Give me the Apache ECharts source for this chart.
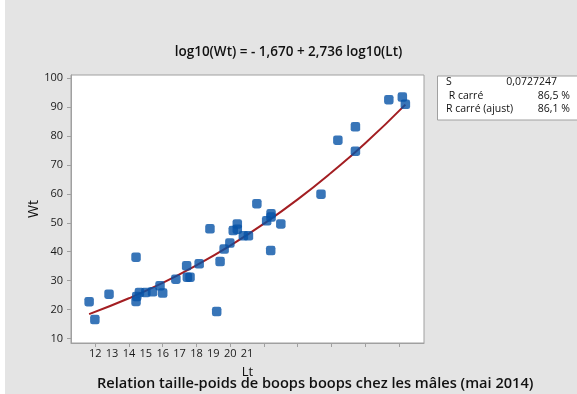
<!DOCTYPE html>
<html>
<head>
<meta charset="utf-8">
<script src="https://cdn.jsdelivr.net/npm/echarts@6/dist/echarts.min.js"></script>
<style>
html,body{margin:0;padding:0;background:#fff;}
#c{width:577px;height:394px;}
</style>
</head>
<body>
<div id="c"></div>
<script>
// Observed data (Lt in cm, Wt in g)
var lt = [11.82, 11.99, 12.41, 13.21, 13.21, 13.23, 13.31, 13.50, 13.70, 13.92, 14.00, 14.39, 14.71, 14.73, 14.81, 15.08, 15.40, 15.60, 15.70, 15.82, 15.99, 16.09, 16.21, 16.21, 16.39, 16.54, 16.79, 17.08, 17.20, 17.21, 17.21, 17.50, 18.69, 19.19, 19.71, 19.71, 20.70, 21.10, 21.19];
var wt = [22.7, 16.5, 25.3, 38.1, 22.8, 24.5, 25.9, 25.9, 26.1, 28.2, 25.7, 30.5, 35.1, 31.2, 31.2, 35.8, 47.9, 19.3, 36.6, 40.9, 43.0, 47.3, 49.6, 47.8, 45.5, 45.5, 56.6, 50.7, 40.4, 53.1, 52.0, 49.6, 59.9, 78.6, 83.2, 74.8, 92.6, 93.5, 91.0];
// Fitted curve
var fitLt = [11.82, 13, 14, 15, 16, 17, 18, 19, 20, 21.19];
var fitWt = [18.4, 23.9, 29.2, 35.3, 42.1, 49.7, 58.1, 67.4, 77.5, 90.9];
// Tick labels
var xTicks = [12, 13, 14, 15, 16, 17, 18, 19, 20, 21];
var xLabelSlots = [12, 12.5, 13, 13.5, 14, 14.5, 15, 15.5, 16, 16.5];
var yTicks = [10, 20, 30, 40, 50, 60, 70, 80, 90, 100];
var eqText = 'log10(Wt) = - 1,670 + 2,736 log10(Lt)';
var bottomTitle = 'Relation taille-poids de boops boops chez les mâles (mai 2014)';
var statNames = ['S', ' R carré', 'R carré (ajust)'];
var statValues = ['0,0727247', '86,5 %', '86,1 %'];

var chart = echarts.init(document.getElementById('c'), null, {renderer: 'canvas'});
var FONT = 'Open Sans';
var pts = lt.map(function (v, i) { return [v, wt[i]]; });
var fit = fitLt.map(function (v, i) { return [v, fitWt[i]]; });

var statEls = [];
var rowY = [77, 90.5, 104];
statNames.forEach(function (n, i) {
  statEls.push({type: 'text', left: 446, top: rowY[i], style: {text: n, fontSize: 10.5, fontFamily: FONT, fill: '#111'}});
});
var statRight = [557, 570, 570];
statValues.forEach(function (v, i) {
  statEls.push({type: 'text', right: 577 - statRight[i], top: rowY[i], style: {text: v, fontSize: 10.5, fontFamily: FONT, fill: '#111', textAlign: 'right'}});
});

chart.setOption({
  backgroundColor: '#fff',
  animation: false,
  grid: {left: 71, right: 153, top: 75, bottom: 51, show: true, backgroundColor: '#fff', borderColor: '#a0a0a0', borderWidth: 1},
  xAxis: {
    type: 'value', min: 11.283, max: 21.742,
    name: 'Lt', nameLocation: 'middle', nameGap: 23, nameMoveOverlap: false,
    nameTextStyle: {fontFamily: FONT, fontSize: 13, color: '#111'},
    axisLine: {show: true, onZero: false, lineStyle: {color: '#a0a0a0'}},
    axisTick: {show: true, customValues: xTicks, length: 4, lineStyle: {color: '#a0a0a0'}},
    axisLabel: {customValues: xLabelSlots, margin: 5, fontFamily: FONT, fontSize: 11, color: '#1a1a1a',
      formatter: function (v) { return String(xTicks[xLabelSlots.indexOf(v)]); }},
    splitLine: {show: false}
  },
  yAxis: {
    type: 'value', min: 8.41, max: 101.14,
    name: 'Wt', nameLocation: 'middle', nameGap: 30, nameRotate: 90, nameMoveOverlap: false,
    nameTextStyle: {fontFamily: FONT, fontSize: 14, color: '#111'},
    axisLine: {show: true, onZero: false, lineStyle: {color: '#a0a0a0'}},
    axisTick: {show: true, customValues: yTicks, length: 4, lineStyle: {color: '#a0a0a0'}},
    axisLabel: {customValues: yTicks, margin: 8, fontFamily: FONT, fontSize: 11, color: '#1a1a1a'},
    splitLine: {show: false}
  },
  graphic: [
    {type: 'rect', left: 5, top: 0, shape: {width: 572, height: 394}, style: {fill: '#e4e4e4'}, z: -10},
    {type: 'text', left: 'center', top: 45, style: {text: eqText, font: '600 13.5px "' + FONT + '"', fill: '#111'}},
    {type: 'rect', left: 437, top: 75.5, shape: {width: 150, height: 44}, style: {fill: '#fff', stroke: '#a0a0a0', lineWidth: 1}},
    {type: 'text', left: 97, top: 376, style: {text: bottomTitle, font: '600 14.6px "' + FONT + '"', fill: '#111'}}
  ].concat(statEls),
  series: [
    {type: 'line', data: fit, smooth: true, showSymbol: false, lineStyle: {color: '#a31e22', width: 2}, z: 2},
    {type: 'scatter', data: pts, symbol: 'roundRect', symbolSize: 9.5, itemStyle: {color: '#0652a6'}, z: 3}
  ]
});
</script>
</body>
</html>
